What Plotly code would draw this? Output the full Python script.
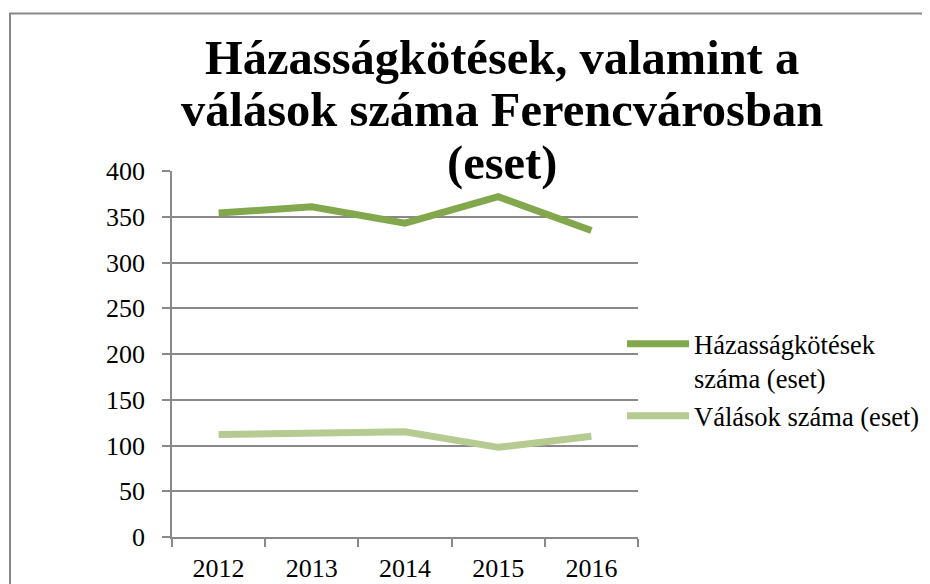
import plotly.graph_objects as go

years = ["2012", "2013", "2014", "2015", "2016"]
marriages = [354, 361, 343, 372, 335]
divorces = [112, 114, 115, 98, 110]
series_names = ["Házasságkötések<br>száma (eset)", "Válások száma (eset)"]
title_lines = ["Házasságkötések, valamint a", "válások száma Ferencvárosban", "(eset)"]
y_ticks = [0, 50, 100, 150, 200, 250, 300, 350, 400]

# the page body adds an 8px margin; size the figure so it fills the window
OFF = 8
W, H = 930 - OFF, 584 - OFF
ML, MR, MT, MB = 172 - OFF, 930 - 638, 171 - OFF, 584 - 537
PW, PH = W - ML - MR, H - MT - MB


def px_x(wx):
    return (wx - OFF - ML) / PW


def px_y(wy):
    return (H - MB - (wy - OFF)) / PH


GRID = "#898989"
FONT = "Liberation Serif"

fig = go.Figure()
fig.add_trace(go.Scatter(x=years, y=marriages, name=series_names[0], mode="lines",
                         legendgroup="a", line=dict(color="#83A74D", width=7)))
fig.add_trace(go.Scatter(x=years, y=divorces, name=series_names[1], mode="lines",
                         legendgroup="b", line=dict(color="#B5CB92", width=7)))

fig.update_layout(
    width=W, height=H,
    margin=dict(l=ML, r=MR, t=MT, b=MB, autoexpand=False),
    paper_bgcolor="white", plot_bgcolor="white",
    font=dict(family=FONT, size=26, color="black"),
    showlegend=True,
    legend=dict(xref="container", yref="container", x=(622 - OFF) / W, xanchor="left",
                y=1 - 312 / H, yanchor="top",
                valign="top", font=dict(size=26.5, family=FONT), itemwidth=62,
                bgcolor="rgba(0,0,0,0)", tracegroupgap=0),
    xaxis=dict(type="category", range=[-0.5, 4.5], automargin=False,
               showgrid=False, showline=True, linecolor=GRID, linewidth=1.5,
               ticks="outside", tickson="boundaries", ticklen=8, tickcolor=GRID, tickwidth=1.5,
               tickfont=dict(size=26, family=FONT), ticklabelstandoff=7),
    yaxis=dict(range=[0, 400], tickvals=y_ticks, automargin=False,
               showgrid=True, gridcolor=GRID, gridwidth=1.5,
               showline=True, linecolor=GRID, linewidth=1.5, zeroline=False,
               ticks="outside", ticklen=8, tickcolor=GRID, tickwidth=1.5,
               tickfont=dict(size=26, family=FONT), ticklabelstandoff=12),
)

# outer chart border
fig.add_shape(type="rect", xref="paper", yref="paper",
              x0=px_x(10), x1=px_x(928.5), y0=px_y(620), y1=px_y(13.5),
              line=dict(color="#888888", width=2), fillcolor="rgba(0,0,0,0)", layer="below")

# title, three centered lines
for line, yb in zip(title_lines, [86, 138, 192]):
    fig.add_annotation(text="<b>%s</b>" % line, xref="paper", yref="paper",
                       x=px_x(502), y=px_y(yb), xanchor="center", yanchor="bottom",
                       showarrow=False, font=dict(size=48.5, family=FONT, color="black"))

fig.write_html("out.html")
